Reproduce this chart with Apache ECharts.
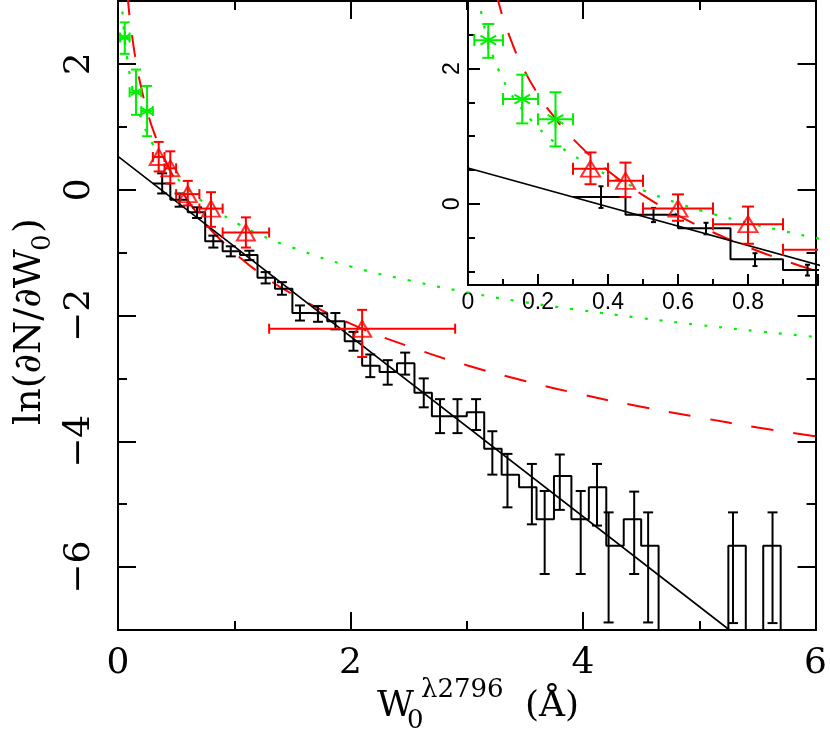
<!DOCTYPE html>
<html><head><meta charset="utf-8">
<script src="https://cdn.jsdelivr.net/npm/echarts@6/dist/echarts.min.js"></script>
<style>html,body{margin:0;padding:0;background:#fff}#c{width:830px;height:733px}</style>
</head><body><div id="c"></div>
<script>
// ---------- data ----------
// black histogram (left bin edges, value; null = empty bin)
const binLeft  = [0.30,0.45,0.60,0.75,0.90,1.05,1.20,1.35,1.50,1.65,1.80,1.95,2.10,2.25,2.40,2.55,2.70,2.85,3.00,3.15,3.30,3.45,3.60,3.75,3.90,4.05,4.20,4.35,4.50,4.65,4.80,4.95,5.10,5.25,5.40,5.55];
const histEnd  = 5.70;
const binValue = [0.10,-0.16,-0.36,-0.82,-0.98,-1.04,-1.40,-1.575,-1.96,-1.97,-2.09,-2.41,-2.80,-2.90,-2.76,-3.23,-3.60,-3.60,-3.54,-4.12,-4.53,-4.73,-5.24,-4.55,-5.24,-4.73,-5.66,-5.24,-5.66,null,null,null,null,-5.66,null,-5.66];
// black error bars (mean W in bin, upper, lower)
const errW  = [0.38,0.53,0.68,0.82,0.97,1.13,1.27,1.41,1.565,1.72,1.87,2.025,2.17,2.32,2.47,2.63,2.77,2.92,3.08,3.22,3.35,3.56,3.67,3.80,3.98,4.12,4.22,4.44,4.56,5.29,5.63];
const errUp = [0.26,-0.06,-0.28,-0.73,-0.90,-0.97,-1.31,-1.47,-1.84,-1.85,-1.96,-2.26,-2.62,-2.71,-2.59,-3.00,-3.33,-3.33,-3.33,-3.84,-4.20,-4.36,-4.79,-4.21,-4.79,-4.36,-5.13,-4.80,-5.13,-5.13,-5.13];
const errLo = [-0.06,-0.27,-0.45,-0.92,-1.06,-1.12,-1.49,-1.67,-2.08,-2.10,-2.22,-2.56,-2.98,-3.10,-2.94,-3.46,-3.87,-3.87,-3.82,-4.53,-5.05,-5.32,-6.11,-5.09,-6.11,-5.34,-6.88,-6.11,-6.88,-6.89,-6.89];
// straight fit (end points)
const fitW = [0, 5.26];
const fitV = [0.53, -7.0];
// red dashed curve
const redCurveW = [0.08,0.09,0.10,0.12,0.15,0.20,0.25,0.30,0.40,0.50,0.60,0.70,0.80,0.90,1.00,1.20,1.50,2.00,2.50,3.00,3.50,4.00,4.50,5.00,5.50,6.00];
const redCurveV = [3.12,2.93,2.75,2.46,2.09,1.62,1.26,0.96,0.49,0.13,-0.17,-0.42,-0.64,-0.83,-1.00,-1.30,-1.66,-2.13,-2.49,-2.79,-3.04,-3.26,-3.45,-3.62,-3.78,-3.92];
// green dotted curve
const greenCurveW = [0.03,0.04,0.05,0.06,0.08,0.10,0.12,0.15,0.20,0.25,0.30,0.40,0.50,0.60,0.70,0.80,0.90,1.00,1.20,1.50,2.00,2.50,3.00,3.50,4.00,4.50,5.00,5.50,6.00];
const greenCurveV = [3.07,2.77,2.55,2.36,2.07,1.84,1.65,1.43,1.13,0.90,0.72,0.42,0.20,0.01,-0.15,-0.28,-0.40,-0.51,-0.70,-0.92,-1.22,-1.44,-1.63,-1.79,-1.92,-2.04,-2.15,-2.25,-2.34];
// red triangles
const redW   = [0.35,0.45,0.60,0.80,1.10,2.10];
const redV   = [0.52,0.34,-0.07,-0.30,-0.68,-2.21];
const redWLo = [0.30,0.40,0.50,0.70,0.90,1.30];
const redWHi = [0.40,0.50,0.70,0.90,1.30,2.90];
const redVUp = [0.76,0.61,0.14,-0.04,-0.44,-1.91];
const redVLo = [0.29,0.10,-0.25,-0.59,-0.92,-2.66];
// green asterisks
const grnW   = [0.058,0.155,0.25];
const grnV   = [2.42,1.55,1.25];
const grnWLo = [0.018,0.10,0.20];
const grnWHi = [0.10,0.20,0.30];
const grnVUp = [2.66,1.91,1.65];
const grnVLo = [2.16,1.19,0.85];
// tick values
const mainYMajor = [-6,-4,-2,0,2];
const insetYMajor = [0,2];
const insetYMinor = [-1,-0.5,0.5,1,1.5,2.5];

// ---------- helpers ----------
const RED = '#ff0000', GRN = '#00f000', BLK = '#000000';
const zip2 = (a,b) => a.map((v,i)=>[v,b[i]]);
function histPoints(floor){
  const pts=[];
  for(let i=0;i<binLeft.length;i++){
    const lo=binLeft[i], hi=(i+1<binLeft.length)?binLeft[i+1]:histEnd;
    const v=(binValue[i]===null)?floor:binValue[i];
    pts.push([lo,v],[hi,v]);
  }
  pts.push([histEnd,floor]);
  return pts;
}
function vErr(cap,color,lw){
  return function(p,api){
    const x=api.value(0), a=api.coord([x,api.value(1)]), b=api.coord([x,api.value(2)]);
    const st={stroke:color,lineWidth:lw,fill:null};
    return {type:'group',children:[
      {type:'line',shape:{x1:a[0],y1:a[1],x2:b[0],y2:b[1]},style:st},
      {type:'line',shape:{x1:a[0]-cap,y1:a[1],x2:a[0]+cap,y2:a[1]},style:st},
      {type:'line',shape:{x1:b[0]-cap,y1:b[1],x2:b[0]+cap,y2:b[1]},style:st}]};
  };
}
function hErr(cap,color,lw){
  return function(p,api){
    const y=api.value(2), a=api.coord([api.value(0),y]), b=api.coord([api.value(1),y]);
    const st={stroke:color,lineWidth:lw,fill:null};
    return {type:'group',children:[
      {type:'line',shape:{x1:a[0],y1:a[1],x2:b[0],y2:b[1]},style:st},
      {type:'line',shape:{x1:a[0],y1:a[1]-cap,x2:a[0],y2:a[1]+cap},style:st},
      {type:'line',shape:{x1:b[0],y1:b[1]-cap,x2:b[0],y2:b[1]+cap},style:st}]};
  };
}
function star(r,color,lw){
  return function(p,api){
    const c=api.coord([api.value(0),api.value(1)]);
    const st={stroke:color,lineWidth:lw,fill:null};
    const ch=[];
    [90,30,150].forEach(d=>{
      const t=d*Math.PI/180, dx=r*Math.cos(t), dy=r*Math.sin(t);
      ch.push({type:'line',shape:{x1:c[0]-dx,y1:c[1]+dy,x2:c[0]+dx,y2:c[1]-dy},style:st});
    });
    return {type:'group',children:ch};
  };
}
function seriesFor(xi,yi,floor,sc){
  const ax={xAxisIndex:xi,yAxisIndex:yi};
  const blackData = errW.map((w,i)=>[w,errLo[i],errUp[i]]);
  return [
    Object.assign({type:'line',data:zip2(greenCurveW,greenCurveV),showSymbol:false,smooth:true,clip:true,
      lineStyle:{color:GRN,width:2.2,type:[3,12]},z:2},ax),
    Object.assign({type:'line',data:zip2(redCurveW,redCurveV),showSymbol:false,smooth:true,clip:true,
      lineStyle:{color:RED,width:2,type:[22,20]},z:2},ax),
    Object.assign({type:'line',data:zip2(fitW,fitV),showSymbol:false,clip:true,
      lineStyle:{color:BLK,width:1.6},z:3},ax),
    Object.assign({type:'line',data:histPoints(floor),showSymbol:false,clip:true,
      lineStyle:{color:BLK,width:2},z:3},ax),
    Object.assign({type:'custom',clip:true,data:blackData,renderItem:vErr(sc.bcap,BLK,2),z:4},ax),
    Object.assign({type:'custom',clip:true,data:redW.map((w,i)=>[w,redVLo[i],redVUp[i]]),renderItem:vErr(sc.rcap,RED,2),z:5},ax),
    Object.assign({type:'custom',clip:true,data:redW.map((w,i)=>[redWLo[i],redWHi[i],redV[i]]),renderItem:hErr(sc.rcap,RED,2),z:5},ax),
    Object.assign({type:'scatter',data:zip2(redW,redV),symbol:'triangle',symbolSize:sc.tri,clip:true,
      itemStyle:{color:'rgba(0,0,0,0)',borderColor:RED,borderWidth:2},z:6},ax),
    Object.assign({type:'custom',clip:true,data:grnW.map((w,i)=>[w,grnVLo[i],grnVUp[i]]),renderItem:vErr(sc.gcap,GRN,2),z:5},ax),
    Object.assign({type:'custom',clip:true,data:grnW.map((w,i)=>[grnWLo[i],grnWHi[i],grnV[i]]),renderItem:hErr(sc.gcap,GRN,2),z:5},ax),
    Object.assign({type:'custom',clip:true,data:zip2(grnW,grnV),renderItem:star(sc.star,GRN,2),z:6},ax)
  ];
}

const SERIF = 'DejaVu Serif';
const SANS = 'Liberation Sans';
const lineK = {show:true,onZero:false,lineStyle:{color:BLK,width:2}};
const minus = v => String(v).replace('-','\u2212');
const tk = (len,extra) => Object.assign({inside:true,length:len,lineStyle:{color:BLK,width:2}},extra||{});
function vAx(o){return Object.assign({type:'value',splitLine:{show:false},axisLine:lineK},o);}

const option = {
  animation:false,
  backgroundColor:'#fff',
  grid:[
    {left:118,top:1,width:700,height:629,containLabel:false},
    {left:468,top:1,width:350,height:284,containLabel:false}
  ],
  xAxis:[
    vAx({gridIndex:0,position:'bottom',min:0,max:6,interval:2,axisTick:tk(18),
      minorTick:{show:true,splitNumber:2,length:9,lineStyle:{color:BLK,width:2}},
      axisLabel:{fontFamily:SERIF,fontSize:36,color:BLK,margin:16}}),
    vAx({gridIndex:0,position:'top',min:0,max:6,interval:2,axisTick:tk(18),
      minorTick:{show:true,splitNumber:2,length:9,lineStyle:{color:BLK,width:2}},
      axisLabel:{show:false}}),
    vAx({gridIndex:1,position:'bottom',min:0,max:1,interval:0.2,axisTick:tk(11),
      minorTick:{show:true,splitNumber:2,length:6,lineStyle:{color:BLK,width:2}},
      axisLabel:{fontFamily:SANS,fontSize:23,color:BLK,margin:6,showMaxLabel:false,
        formatter:v=>(v>=0.999?'':String(+v.toFixed(1)))}})
  ],
  yAxis:[
    vAx({gridIndex:0,position:'left',min:-7,max:3,interval:1,axisTick:tk(9),axisLabel:{show:false}}),
    vAx({gridIndex:0,position:'left',min:-7,max:3,interval:1,axisTick:tk(18,{customValues:mainYMajor}),
      axisLabel:{customValues:mainYMajor,rotate:90,fontFamily:SERIF,fontSize:36,color:BLK,margin:20,formatter:minus}}),
    vAx({gridIndex:0,position:'right',min:-7,max:3,interval:1,axisTick:tk(9),axisLabel:{show:false}}),
    vAx({gridIndex:0,position:'right',min:-7,max:3,interval:1,axisTick:tk(18,{customValues:mainYMajor}),axisLabel:{show:false}}),
    vAx({gridIndex:1,position:'left',min:-1.2,max:3,interval:0.6,axisTick:tk(7,{customValues:insetYMinor}),axisLabel:{show:false}}),
    vAx({gridIndex:1,position:'left',min:-1.2,max:3,interval:0.6,axisTick:tk(12,{customValues:insetYMajor}),
      axisLabel:{customValues:insetYMajor,rotate:90,fontFamily:SANS,fontSize:23,color:BLK,margin:4}})
  ],
  series:[].concat(
    seriesFor(0,0,-7,{bcap:5,rcap:5,gcap:5,tri:[18,16],star:6}),
    seriesFor(2,4,-1.2,{bcap:2.5,rcap:6,gcap:6,tri:[19,16],star:9})
  ),
  graphic:[
    {type:'text',x:377,y:707,style:{text:'W',font:'36px "DejaVu Serif"',fill:BLK,textVerticalAlign:'middle'}},
    {type:'text',x:407,y:721,style:{text:'0',font:'26px "DejaVu Serif"',fill:BLK,textVerticalAlign:'middle'}},
    {type:'text',x:421,y:690,style:{text:'\u03bb2796',font:'26px "DejaVu Serif"',fill:BLK,textVerticalAlign:'middle'}},
    {type:'text',x:525,y:707,style:{text:'(\u00c5)',font:'36px "DejaVu Serif"',fill:BLK,textVerticalAlign:'middle'}},
    {type:'group',x:30,y:425,rotation:Math.PI/2,children:[
      {type:'text',x:0,y:0,style:{text:'ln(\u2202N/\u2202W',font:'38px "DejaVu Serif"',fill:BLK,textVerticalAlign:'middle'}},
      {type:'text',x:174,y:13,style:{text:'0',font:'26px "DejaVu Serif"',fill:BLK,textVerticalAlign:'middle'}},
      {type:'text',x:192,y:0,style:{text:')',font:'38px "DejaVu Serif"',fill:BLK,textVerticalAlign:'middle'}}
    ]}
  ]
};
const chart = echarts.init(document.getElementById('c'),null,{renderer:'canvas'});
chart.setOption(option);
</script></body></html>
